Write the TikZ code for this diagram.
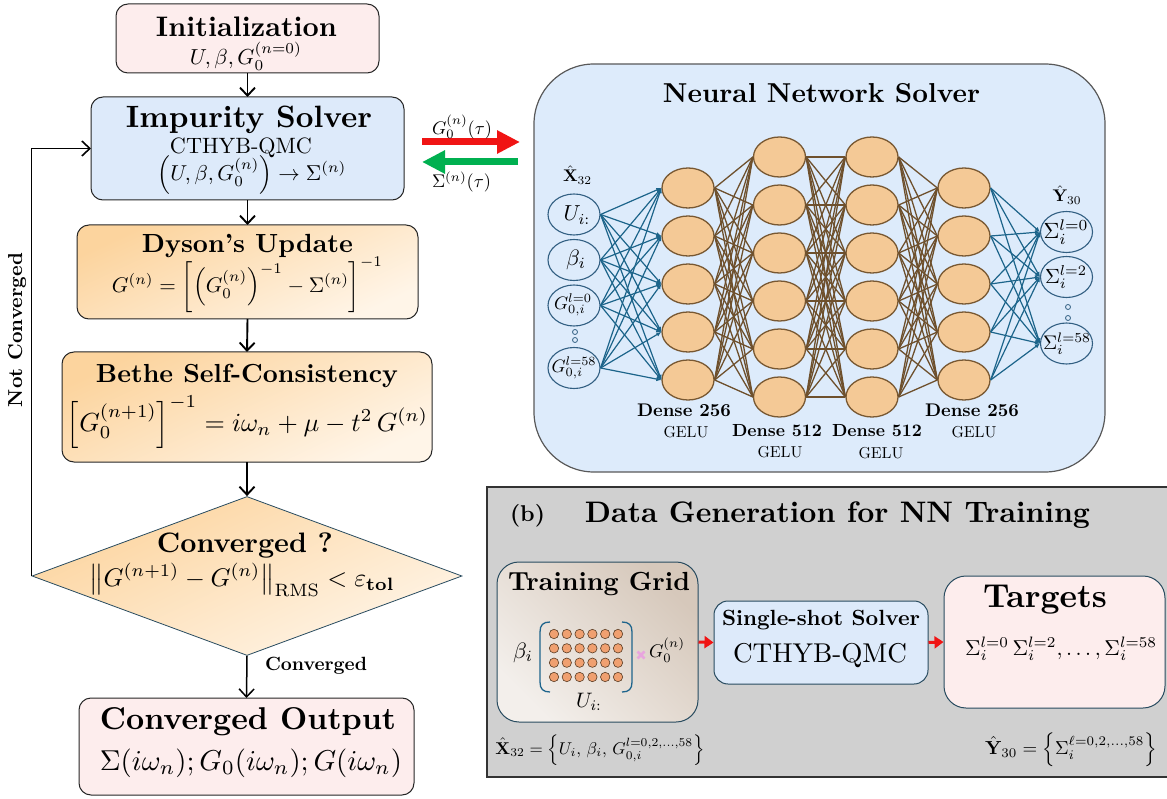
\documentclass[tikz,border=0pt]{standalone}
\usepackage{amsmath,amssymb}
\usepackage{graphicx}
\usetikzlibrary{arrows.meta,shapes.geometric}
\definecolor{pinkbg}{RGB}{253,237,237}
\definecolor{bluebg}{RGB}{221,234,250}
\definecolor{orTop}{RGB}{252,212,158}
\definecolor{orBot}{RGB}{255,245,232}
\definecolor{nnblue}{RGB}{221,235,251}
\definecolor{neur}{RGB}{244,201,150}
\definecolor{neurdraw}{RGB}{120,88,50}
\definecolor{wblue}{RGB}{28,100,138}
\definecolor{wbrown}{RGB}{110,80,45}
\definecolor{inblue}{RGB}{50,95,130}
\definecolor{grayp}{RGB}{208,208,208}
\definecolor{tealb}{RGB}{40,75,95}
\definecolor{gridA}{RGB}{214,200,187}
\definecolor{gridB}{RGB}{243,239,235}
\definecolor{dotc}{RGB}{240,160,112}
\definecolor{dotd}{RGB}{90,60,35}
\definecolor{rarrow}{RGB}{240,20,20}
\definecolor{garrow}{RGB}{0,176,80}
\definecolor{crossc}{RGB}{232,165,222}
\definecolor{brk}{RGB}{30,100,140}
\newcommand{\fitw}[2]{\resizebox{#1pt}{!}{#2}}
\begin{document}
\begin{tikzpicture}[x=1pt,y=-1pt,
  box/.style={draw=black!85, line width=1pt, rounded corners=12pt, inner sep=0pt, outer sep=0pt},
  lbl/.style={inner sep=0pt, outer sep=0pt},
  flow/.style={line width=1.9pt, -{Straight Barb[length=8pt,width=15pt]}},
  neuron/.style={ellipse, draw=neurdraw, fill=neur, line width=1.3pt, minimum width=52pt, minimum height=40pt, inner sep=0pt},
  io/.style={ellipse, draw=inblue, fill=nnblue, line width=1.1pt, minimum width=52pt, minimum height=41pt, inner sep=0pt},
  wb/.style={draw=wblue, line width=1.2pt, -{Latex[length=5pt,width=4.5pt]}},
  wr/.style={draw=wbrown, line width=1.3pt},
  bigarr/.style={line width=7pt, -{Triangle[length=23pt,width=22pt]}},
  rarr/.style={draw=rarrow, line width=3pt, -{Triangle[length=9pt,width=12pt]}},
  gdot/.style={circle, draw=dotd, fill=dotc, line width=0.6pt, minimum size=9.4pt, inner sep=0pt},
  smalldot/.style={circle, draw=inblue, line width=0.8pt, minimum size=5pt, inner sep=0pt}
]
\useasboundingbox (0,0) rectangle (1167,799);

% ---------------- left flowchart ----------------
\node[box, fill=pinkbg, minimum width=263pt, minimum height=69pt] (init) at (247.5,38.5) {};
\node[box, fill=bluebg, minimum width=313pt, minimum height=103pt] (imp) at (247.5,148.5) {};
\node[box, top color=orTop, bottom color=orBot, shading angle=25, minimum width=341pt, minimum height=94pt] (dys) at (247.5,272) {};
\node[box, top color=orTop, bottom color=orBot, shading angle=25, minimum width=370pt, minimum height=110pt] (bet) at (247,407) {};
\node[diamond, draw=tealb, line width=0.8pt, top color=orTop, bottom color=orBot, shading angle=25, minimum width=430pt, minimum height=159pt, inner sep=0pt] (dia) at (247,576) {};
\node[box, fill=pinkbg, minimum width=335pt, minimum height=97pt] (out) at (246.5,746.5) {};

\node[lbl, anchor=base] (tinit) at (246.5,37) {\fitw{181}{\textbf{Initialization}}};
\node[lbl, anchor=base] (finit) at (246,65) {\fitw{112}{$U,\beta,G_0^{(n=0)}$}};
\node[lbl, anchor=base] (timp) at (249,128) {\fitw{246}{\textbf{Impurity Solver}}};
\node[lbl, anchor=base] (tcth) at (241,154) {\fitw{142}{CTHYB-QMC}};
\node[lbl] (fimp) at (252,175) {\fitw{189}{$\left(U,\beta,G_0^{(n)}\right)\rightarrow\Sigma^{(n)}$}};
\node[lbl, anchor=base] (tdys) at (247.5,253) {\fitw{211}{\textbf{Dyson's Update}}};
\node[lbl] (fdys) at (247.5,285) {\fitw{271}{$G^{(n)}=\left[\left(G_0^{(n)}\right)^{-1}-\Sigma^{(n)}\right]^{-1}$}};
\node[lbl, anchor=base] (tbet) at (247,383) {\fitw{302}{\textbf{Bethe Self-Consistency}}};
\node[lbl] (fbet) at (247.5,422) {\fitw{361}{$\left[G_0^{(n+1)}\right]^{-1}=i\omega_n+\mu-t^2\,G^{(n)}$}};
\node[lbl, anchor=base] (tconv) at (245,552) {\fitw{176}{\textbf{Converged ?}}};
\node[lbl] (fconv) at (242,580) {\fitw{305}{$\left\|G^{(n+1)}-G^{(n)}\right\|_{\mathrm{RMS}}<\varepsilon_{\mathbf{tol}}$}};
\node[lbl, anchor=base] (lconv) at (316,670) {\fitw{102}{\textbf{Converged}}};
\node[lbl, anchor=base] (tout) at (248,729) {\fitw{296}{\textbf{Converged Output}}};
\node[lbl] (fout) at (251,763) {\fitw{302}{$\Sigma(i\omega_n);G_0(i\omega_n);G(i\omega_n)$}};
\node[lbl, rotate=90] (lnot) at (17,330) {\fitw{154}{\textbf{Not Converged}}};

\draw[flow] (init.south) -- (imp.north);
\draw[flow] (imp.south) -- (dys.north);
\draw[flow] (dys.south) -- (bet.north);
\draw[flow] (bet.south) -- (dia.north);
\draw[flow, line width=1.5pt] (dia.south) -- (out.north);
\draw[flow, line width=1.6pt] (dia.west) |- (imp.west);

% ---------------- exchange arrows ----------------
\coordinate (ra) at (422,142);
\coordinate (rb) at (520,142);
\coordinate (ga) at (518,162);
\coordinate (gb) at (422,162);
\draw[bigarr, draw=rarrow, fill=rarrow] (ra) -- (rb);
\draw[bigarr, draw=garrow, fill=garrow] (ga) -- (gb);
\node[lbl] (lg) at (462,127) {\fitw{60}{$G_0^{(n)}(\tau)$}};
\node[lbl] (ls) at (461.5,182) {\fitw{59}{$\Sigma^{(n)}(\tau)$}};

% ---------------- neural network ----------------
\node[draw=black!65, line width=1.2pt, fill=nnblue, rounded corners=60pt, minimum width=571pt, minimum height=408pt, inner sep=0pt] (nnbox) at (819.5,268) {};
\node[lbl, anchor=base] (tnn) at (821.5,103) {\fitw{317}{\textbf{Neural Network Solver}}};

\node[io] (in1) at (574,214.5) {};
\node[io] (in2) at (574,260) {};
\node[io] (in3) at (574,305.5) {};
\node[io] (in4) at (574,368) {};
\node[lbl] (tin1) at (577,215) {\fitw{27}{$U_{i:}$}};
\node[lbl] (tin2) at (576,260) {\fitw{20}{$\beta_i$}};
\node[lbl] (tin3) at (573,305) {\fitw{38}{$G_{0,i}^{l=0}$}};
\node[lbl] (tin4) at (574,368) {\fitw{45}{$G_{0,i}^{l=58}$}};
\node[smalldot] (idot1) at (575,332) {};
\node[smalldot] (idot2) at (575,340) {};
\node[lbl] (lx) at (577.5,175) {\fitw{29}{$\hat{\mathbf{X}}_{32}$}};

\foreach \y [count=\k] in {188,236,284,332,380} {\node[neuron] (a\k) at (688,\y) {};}
\foreach \y [count=\k] in {157,205,253,301,349,397} {\node[neuron] (b\k) at (779.5,\y) {};}
\foreach \y [count=\k] in {157,205,253,301,349,397} {\node[neuron] (c\k) at (872,\y) {};}
\foreach \y [count=\k] in {188,236,284,332,380} {\node[neuron] (d\k) at (964,\y) {};}

\node[io] (o1) at (1066.5,232) {};
\node[io] (o2) at (1066.5,277) {};
\node[io] (o3) at (1066.5,343.5) {};
\node[lbl] (to1) at (1066,232) {\fitw{45}{$\Sigma_i^{l=0}$}};
\node[lbl] (to2) at (1066,277) {\fitw{42}{$\Sigma_i^{l=2}$}};
\node[lbl] (to3) at (1067,344) {\fitw{48}{$\Sigma_i^{l=58}$}};
\node[smalldot] (odot1) at (1068,307) {};
\node[smalldot] (odot2) at (1068,318) {};
\node[lbl] (ly) at (1067,195) {\fitw{29}{$\hat{\mathbf{Y}}_{30}$}};

\foreach \i in {1,...,4} {\foreach \j in {1,...,5} {\draw[wb] (in\i.east) -- (a\j.west);}}
\foreach \i in {1,...,5} {\foreach \j in {1,...,6} {\draw[wr] (a\i.east) -- (b\j.west);}}
\foreach \i in {1,...,6} {\foreach \j in {1,...,6} {\draw[wr] (b\i.east) -- (c\j.west);}}
\foreach \i in {1,...,6} {\foreach \j in {1,...,5} {\draw[wr] (c\i.east) -- (d\j.west);}}
\foreach \i in {1,...,5} {\foreach \j in {1,...,3} {\draw[wb] (d\i.east) -- (o\j.west);}}

\node[lbl] (da) at (684,410) {\fitw{94}{\textbf{Dense 256}}};
\node[lbl] (ga1) at (686,432) {\fitw{45}{GELU}};
\node[lbl] (db) at (777,431) {\fitw{90}{\textbf{Dense 512}}};
\node[lbl] (gb1) at (780,452) {\fitw{45}{GELU}};
\node[lbl] (dc) at (877,431) {\fitw{90}{\textbf{Dense 512}}};
\node[lbl] (gc1) at (881,453) {\fitw{45}{GELU}};
\node[lbl] (dd) at (972,410) {\fitw{94}{\textbf{Dense 256}}};
\node[lbl] (gd1) at (974,432) {\fitw{45}{GELU}};

% ---------------- panel (b) ----------------
\node[draw=black!80, line width=1.2pt, fill=grayp, minimum width=685pt, minimum height=290pt, inner sep=0pt] (pb) at (829.5,632) {};
\node[lbl, anchor=base] (tb) at (527.5,521) {\fitw{35}{\textbf{(b)}}};
\node[lbl, anchor=base] (tpb) at (837.5,522) {\fitw{505}{\textbf{Data Generation for NN Training}}};

\node[draw=tealb, line width=1pt, rounded corners=22pt, top color=gridA, bottom color=gridB, shading angle=-45, minimum width=201pt, minimum height=160pt, inner sep=0pt] (tg) at (597.5,642) {};
\node[lbl, anchor=base] (ttg) at (599,590) {\fitw{182}{\textbf{Training Grid}}};
\foreach \r [count=\rr] in {634,648.3,662.7,677} {\foreach \c in {0,...,5} {\node[gdot] (g\rr\c) at (554+12.8*\c,\r) {};}}
\draw[brk, line width=1.3pt] (550,622) .. controls (543,622) and (540,625) .. (540,632) -- (540,682) .. controls (540,689) and (543,692) .. (550,692);
\draw[brk, line width=1.3pt] (622,622) .. controls (629,622) and (632,625) .. (632,632) -- (632,682) .. controls (632,689) and (629,692) .. (622,692);
\node[lbl] (tbeta) at (523,653) {\fitw{20}{$\beta_i$}};
\draw[crossc, line width=2.6pt] (637.5,651.5) -- (644.5,658.5) (637.5,658.5) -- (644.5,651.5);
\node[lbl] (tg0) at (667,650) {\fitw{36}{$G_0^{(n)}$}};
\node[lbl] (tui) at (589,702) {\fitw{26}{$U_{i:}$}};

\node[draw=tealb, line width=1pt, rounded corners=14pt, fill=bluebg, minimum width=214pt, minimum height=83pt, inner sep=0pt] (ss) at (821,642.5) {};
\node[lbl, anchor=base] (tss) at (821,625) {\fitw{198}{\textbf{Single-shot Solver}}};
\node[lbl, anchor=base] (tss2) at (820,662) {\fitw{174}{CTHYB-QMC}};

\node[draw=tealb, line width=1pt, rounded corners=22pt, fill=pinkbg, minimum width=221pt, minimum height=132pt, inner sep=0pt] (tgt) at (1054.5,642) {};
\node[lbl, anchor=base] (ttgt) at (1045,607) {\fitw{124}{\textbf{Targets}}};
\node[lbl] (ftgt) at (1061,649) {\fitw{192}{$\Sigma_i^{l=0}\,\Sigma_i^{l=2},\ldots,\Sigma_i^{l=58}$}};

\draw[rarr] (tg.east) -- (ss.west);
\draw[rarr] (ss.east) -- (tgt.west);

\node[lbl] (fx) at (600,750) {\fitw{209}{$\hat{\mathbf{X}}_{32}=\left\{U_i,\,\beta_i,\,G_{0,i}^{l=0,2,\ldots,58}\right\}$}};
\node[lbl] (fy) at (1071,750) {\fitw{172}{$\hat{\mathbf{Y}}_{30}=\left\{\Sigma_i^{\ell=0,2,\ldots,58}\right\}$}};
\end{tikzpicture}
\end{document}
